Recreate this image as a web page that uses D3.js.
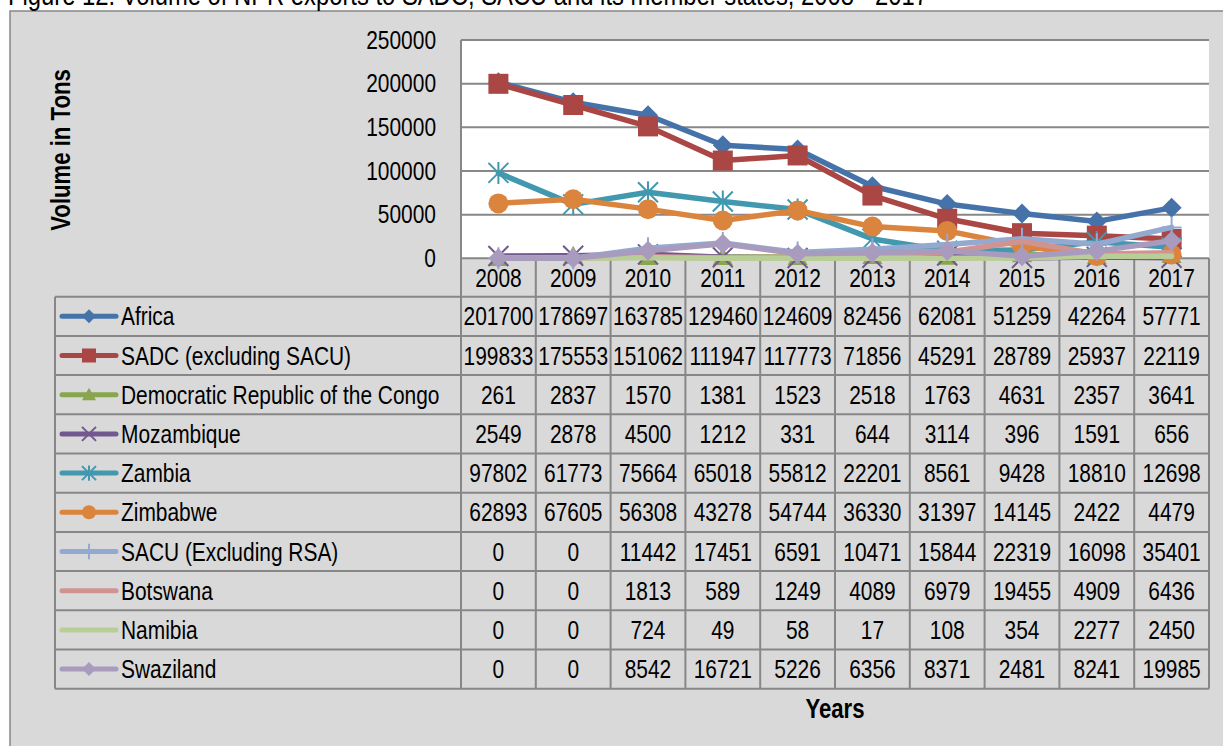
<!DOCTYPE html>
<html>
<head>
<meta charset="utf-8">
<title>NPR exports to SADC and SACU</title>
<script src="https://cdnjs.cloudflare.com/ajax/libs/d3/7.8.5/d3.min.js"></script>
<style>
  body { margin: 0; background: #fff; }
  svg text { font-family: "Liberation Sans", Arial, sans-serif; fill: #000; }
</style>
</head>
<body>
<script>

// ---- data ----
var years = ["2008", "2009", "2010", "2011", "2012", "2013", "2014", "2015", "2016", "2017"];
var yTicks = [0, 50000, 100000, 150000, 200000, 250000];

var africa     = [201700, 178697, 163785, 129460, 124609, 82456, 62081, 51259, 42264, 57771];
var sadc       = [199833, 175553, 151062, 111947, 117773, 71856, 45291, 28789, 25937, 22119];
var drc        = [261, 2837, 1570, 1381, 1523, 2518, 1763, 4631, 2357, 3641];
var mozambique = [2549, 2878, 4500, 1212, 331, 644, 3114, 396, 1591, 656];
var zambia     = [97802, 61773, 75664, 65018, 55812, 22201, 8561, 9428, 18810, 12698];
var zimbabwe   = [62893, 67605, 56308, 43278, 54744, 36330, 31397, 14145, 2422, 4479];
var sacu       = [0, 0, 11442, 17451, 6591, 10471, 15844, 22319, 16098, 35401];
var botswana   = [0, 0, 1813, 589, 1249, 4089, 6979, 19455, 4909, 6436];
var namibia    = [0, 0, 724, 49, 58, 17, 108, 354, 2277, 2450];
var swaziland  = [0, 0, 8542, 16721, 5226, 6356, 8371, 2481, 8241, 19985];

var seriesNames = ["Africa", "SADC (excluding SACU)", "Democratic Republic of the Congo", "Mozambique",
                   "Zambia", "Zimbabwe", "SACU (Excluding RSA)", "Botswana", "Namibia", "Swaziland"];
var seriesValues = [africa, sadc, drc, mozambique, zambia, zimbabwe, sacu, botswana, namibia, swaziland];
var seriesColors = ["#4672aa", "#aa4643", "#89a54e", "#71588f", "#4198af",
                    "#db843d", "#93a9cf", "#d19392", "#b9cd96", "#a99bbd"];
var seriesMarkers = ["diamond", "square", "triangle", "x", "star", "circle", "plus", "none", "none", "diamond"];

var series = seriesNames.map(function(n, i) {
  return { name: n, values: seriesValues[i], color: seriesColors[i], marker: seriesMarkers[i] };
});

// ---- layout ----
var width = 1223, height = 746;
var plot = { left: 461, right: 1209, top: 40, bottom: 258.3 };
var tableTop = 296.7, rowH = 39.2, legendLeft = 55;
var tableBottom = tableTop + rowH * series.length;
var gridColor = "#878787";
var fs = 25.5;

var svg = d3.select("body").append("svg")
    .attr("width", width)
    .attr("height", height);

// narrow-face look (the original uses a condensed Arial)
function narrow(sel) {
  sel.each(function() {
    var w = this.getComputedTextLength();
    d3.select(this).attr("textLength", w * 0.82).attr("lengthAdjust", "spacingAndGlyphs");
  });
}

svg.append("rect")
    .attr("x", 10).attr("y", 11)
    .attr("width", width).attr("height", height)
    .attr("fill", "#d9d9d9")
    .attr("stroke", gridColor).attr("stroke-width", 1.5);

// title is cropped at the top edge in the original
svg.append("text")
    .attr("x", 8).attr("y", 5)
    .attr("font-size", 29)
    .text("Figure 12: Volume of NPR exports to SADC, SACU and its member states, 2008 - 2017")
    .call(narrow);

var x = d3.scaleBand().domain(years).range([plot.left, plot.right]);
var y = d3.scaleLinear().domain([0, 250000]).range([plot.bottom, plot.top]);
function cx(yr) { return x(yr) + x.bandwidth() / 2; }

svg.append("rect")
    .attr("x", plot.left).attr("y", plot.top)
    .attr("width", plot.right - plot.left).attr("height", plot.bottom - plot.top)
    .attr("fill", "#fff");

// gridlines
svg.append("g").selectAll("line")
    .data(yTicks)
    .enter().append("line")
    .attr("x1", plot.left).attr("x2", plot.right)
    .attr("y1", function(d) { return y(d); }).attr("y2", function(d) { return y(d); })
    .attr("stroke", gridColor).attr("stroke-width", 2);

// y axis labels
var yAxis = d3.axisLeft(y).tickValues(yTicks).tickSize(0).tickPadding(25).tickFormat(d3.format("d"));
var yAxisGroup = svg.append("g")
    .attr("transform", "translate(" + plot.left + ",0)")
    .call(yAxis);
yAxisGroup.select(".domain").remove();
yAxisGroup.selectAll("text")
    .attr("font-size", fs)
    .attr("font-family", "Liberation Sans, Arial, sans-serif")
    .attr("fill", "#000")
    .call(narrow);

svg.append("text")
    .attr("transform", "translate(70,150) rotate(-90)")
    .attr("text-anchor", "middle")
    .attr("font-size", 27).attr("font-weight", "bold")
    .text("Volume in Tons")
    .call(narrow);

// ---- data table ----
var tbl = svg.append("g");
d3.range(series.length + 1).forEach(function(k) {
  tbl.append("line")
      .attr("x1", legendLeft).attr("x2", plot.right)
      .attr("y1", tableTop + k * rowH).attr("y2", tableTop + k * rowH)
      .attr("stroke", gridColor).attr("stroke-width", 2);
});
tbl.append("line")
    .attr("x1", legendLeft).attr("x2", legendLeft)
    .attr("y1", tableTop).attr("y2", tableBottom)
    .attr("stroke", gridColor).attr("stroke-width", 2);
tbl.append("line")
    .attr("x1", plot.left).attr("x2", plot.left)
    .attr("y1", plot.top).attr("y2", tableBottom)
    .attr("stroke", gridColor).attr("stroke-width", 2);
tbl.selectAll(".vline")
    .data(years)
    .enter().append("line")
    .attr("x1", function(d) { return x(d) + x.bandwidth(); })
    .attr("x2", function(d) { return x(d) + x.bandwidth(); })
    .attr("y1", plot.bottom).attr("y2", tableBottom)
    .attr("stroke", gridColor).attr("stroke-width", 2);

tbl.selectAll(".year")
    .data(years)
    .enter().append("text")
    .attr("x", cx)
    .attr("y", (plot.bottom + tableTop) / 2 + 9)
    .attr("text-anchor", "middle")
    .attr("font-size", fs)
    .text(function(d) { return d; })
    .call(narrow);

series.forEach(function(s, i) {
  var rowY = tableTop + rowH * (i + 0.5);
  tbl.selectAll(".v" + i)
      .data(s.values)
      .enter().append("text")
      .attr("x", function(d, j) { return cx(years[j]); })
      .attr("y", rowY + 9)
      .attr("text-anchor", "middle")
      .attr("font-size", fs)
      .text(function(d) { return d; })
      .call(narrow);

  tbl.append("text")
      .attr("x", 121).attr("y", rowY + 9)
      .attr("font-size", fs)
      .text(s.name)
      .call(narrow);

  tbl.append("line")
      .attr("x1", 62).attr("x2", 116)
      .attr("y1", rowY).attr("y2", rowY)
      .attr("stroke", s.color).attr("stroke-width", 5)
      .attr("stroke-linecap", "round");
  drawMarker(tbl, s.marker, 89, rowY, 7, s.color);
});

svg.append("text")
    .attr("x", (plot.left + plot.right) / 2).attr("y", 718)
    .attr("text-anchor", "middle")
    .attr("font-size", 27).attr("font-weight", "bold")
    .text("Years")
    .call(narrow);

// ---- markers ----
function drawMarker(g, type, px, py, r, color) {
  if (type === "none") return;
  if (type === "circle") {
    g.append("circle").attr("cx", px).attr("cy", py).attr("r", r).attr("fill", color);
  } else if (type === "square") {
    g.append("rect").attr("x", px - r).attr("y", py - r)
        .attr("width", 2 * r).attr("height", 2 * r).attr("fill", color);
  } else if (type === "diamond") {
    g.append("path")
        .attr("d", "M" + px + "," + (py - r) + "L" + (px + r) + "," + py + "L" + px + "," + (py + r) + "L" + (px - r) + "," + py + "Z")
        .attr("fill", color);
  } else if (type === "triangle") {
    g.append("path")
        .attr("d", "M" + px + "," + (py - r) + "L" + (px + r) + "," + (py + r * 0.8) + "L" + (px - r) + "," + (py + r * 0.8) + "Z")
        .attr("fill", color);
  } else {
    var d = "";
    if (type === "x" || type === "star") {
      d += "M" + (px - r) + "," + (py - r) + "L" + (px + r) + "," + (py + r);
      d += "M" + (px - r) + "," + (py + r) + "L" + (px + r) + "," + (py - r);
    }
    if (type === "star" || type === "plus") {
      d += "M" + px + "," + (py - r * 1.1) + "L" + px + "," + (py + r * 1.1);
    }
    if (type === "plus") {
      d += "M" + (px - r) + "," + py + "L" + (px + r) + "," + py;
    }
    g.append("path").attr("d", d).attr("fill", "none")
        .attr("stroke", color).attr("stroke-width", 2);
  }
}

// ---- series lines ----
var line = d3.line()
    .x(function(d, j) { return cx(years[j]); })
    .y(function(d) { return y(d); });

var lines = svg.append("g");
series.forEach(function(s) {
  lines.append("path")
      .datum(s.values)
      .attr("d", line)
      .attr("fill", "none")
      .attr("stroke", s.color)
      .attr("stroke-width", 5.5)
      .attr("stroke-linejoin", "round")
      .attr("stroke-linecap", "round");
  s.values.forEach(function(v, j) {
    drawMarker(lines, s.marker, cx(years[j]), y(v), 10, s.color);
  });
});

</script>
</body>
</html>
